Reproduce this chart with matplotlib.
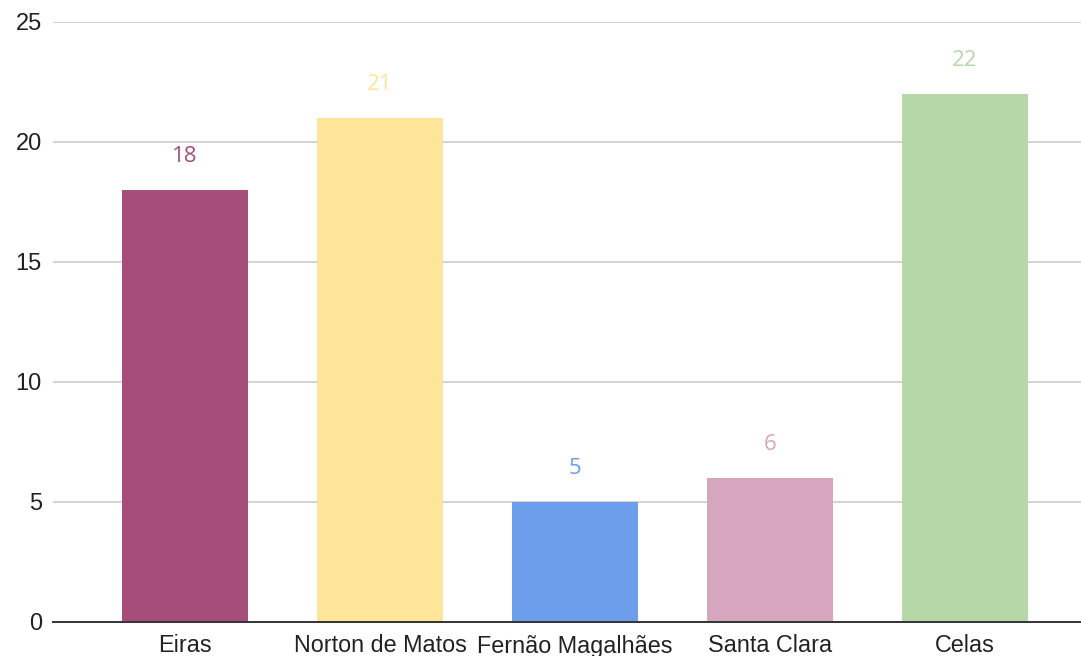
import numpy as np
import matplotlib.pyplot as plt

# Data
bairros = ['Eiras', 'Norton de Matos', 'Fernão Magalhães', 'Santa Clara', 'Celas']
valores = [18, 21, 5, 6, 22]
cores = ['#a64d79', '#ffe599', '#6d9eeb', '#d5a6bd', '#b6d7a8']

plt.rcParams['font.family'] = ['Liberation Sans', 'DejaVu Sans']

fig = plt.figure(figsize=(10.81, 6.56), dpi=100)
ax = fig.add_axes([53 / 1081, 34 / 656, 1 - 53 / 1081, 600 / 656])

x = np.arange(len(bairros))
ax.bar(x, valores, width=0.646, color=cores, zorder=3)

# value labels above bars, same colour as the bar
for xi, v, c in zip(x, valores, cores):
    ax.annotate(str(v), (xi, v), xytext=(0, 24), textcoords='offset points',
                ha='center', va='center', color=c, fontsize=16,
                family=['Open Sans', 'DejaVu Sans'])

ax.set_xlim(-0.677, 4.595)
ax.set_ylim(0, 25)
ax.set_yticks(np.arange(0, 26, 5))
ax.set_xticks(x)
ax.set_xticklabels(bairros)

ax.grid(axis='y', color='#cccccc', linewidth=1.2, zorder=0)
ax.set_axisbelow(True)
for s in ['top', 'right', 'left']:
    ax.spines[s].set_visible(False)
ax.spines['bottom'].set_color('#333333')
ax.spines['bottom'].set_linewidth(1.4)
ax.spines['bottom'].set_zorder(4)

ax.tick_params(axis='y', length=0, pad=8, labelsize=17, labelcolor='#222222')
ax.tick_params(axis='x', length=0, pad=9, labelsize=16.8, labelcolor='#222222')

fig.savefig('out.png', dpi=100)
